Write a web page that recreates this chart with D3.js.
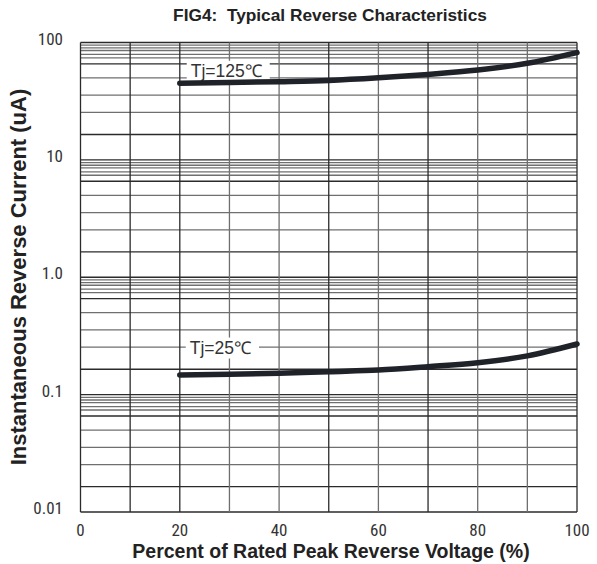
<!DOCTYPE html>
<html lang="en">
<head>
<meta charset="UTF-8">
<title>FIG4 Typical Reverse Characteristics</title>
<script src="https://d3js.org/d3.v7.min.js"></script>
<style>
    body { margin: 0; background: #fff; }
    svg { display: block; }
    .num { font-family: "Liberation Sans Narrow", "Roboto Condensed", "DejaVu Sans Condensed", sans-serif; font-size: 17px; fill: #333; }
    .title { font-family: "Liberation Sans", Arial, sans-serif; font-weight: bold; fill: #222; white-space: pre; }
    .tj { font-family: "Liberation Sans", Arial, sans-serif; font-size: 17.5px; fill: #333; }
</style>
</head>
<body>
<svg id="chart" width="597" height="564"></svg>
<script>
// percent of rated peak reverse voltage
const voltage = [20, 30, 40, 50, 60, 70, 80, 90, 100];
// reverse current (uA)
const current125 = [45, 45.6, 46.4, 47.5, 50, 53.5, 58.3, 66.5, 82];
const current25 = [0.147, 0.149, 0.152, 0.157, 0.162, 0.173, 0.187, 0.214, 0.27];

const xTicks = [0, 20, 40, 60, 80, 100];
const xGrid = [0, 10, 20, 30, 40, 50, 60, 70, 80, 90, 100];
const yTicks = [100, 10, 1, 0.1, 0.01];
const yTickLabels = ["100", "10", "1.0", "0.1", "0.01"];
// the printed grid is not a true log grid, these are its line positions inside a decade
const minorFrac = [0.216, 0.404, 0.551, 0.698, 0.818, 0.869, 0.898, 0.932, 0.954, 0.977];
const darkFrac = [0.216, 0.818];
const darkX = [0, 10, 20, 50, 70, 100];

const curveLabels = [
    { text: "Tj=125\u2103", x: 22.2, y: 57 },
    { text: "Tj=25\u2103", x: 22, y: 0.25 }
];

const svg = d3.select("#chart");
const x = d3.scaleLinear().domain([0, 100]).range([80.5, 577]);
const y = d3.scaleLog().domain([0.01, 100]).range([512, 42.5]);

// horizontal grid
const hLines = [];
[-2, -1, 0, 1].forEach(k => {
    hLines.push({ v: Math.pow(10, k), dark: true });
    minorFrac.forEach(f => hLines.push({ v: Math.pow(10, k + f), dark: darkFrac.includes(f) }));
});
hLines.push({ v: 100, dark: true });

svg.append("g").selectAll("line")
    .data(hLines)
    .join("line")
    .attr("x1", x(0)).attr("x2", x(100))
    .attr("y1", d => y(d.v)).attr("y2", d => y(d.v))
    .attr("stroke", d => d.dark ? "#2b2b2b" : "#6f6f6f")
    .attr("stroke-width", 1.3);

// vertical grid
svg.append("g").selectAll("line")
    .data(xGrid)
    .join("line")
    .attr("x1", d => x(d)).attr("x2", d => x(d))
    .attr("y1", y(100)).attr("y2", y(0.01))
    .attr("stroke", d => darkX.includes(d) ? "#2b2b2b" : "#6f6f6f")
    .attr("stroke-width", 1.3);

// tick labels
svg.append("g").selectAll("text")
    .data(xTicks)
    .join("text")
    .attr("class", "num")
    .attr("x", d => x(d))
    .attr("y", 536)
    .attr("text-anchor", "middle")
    .text(d => d);

svg.append("g").selectAll("text")
    .data(yTicks)
    .join("text")
    .attr("class", "num")
    .attr("x", 63)
    .attr("y", d => y(d) + 2)
    .attr("text-anchor", "end")
    .text((d, i) => yTickLabels[i]);

// curve labels with white boxes
const lab = svg.append("g").selectAll("g")
    .data(curveLabels)
    .join("g");
lab.append("rect").attr("fill", "#fff");
lab.append("text")
    .attr("class", "tj")
    .attr("x", d => x(d.x))
    .attr("y", d => y(d.y))
    .attr("dy", "0.35em")
    .text(d => d.text);
lab.each(function() {
    const g = d3.select(this);
    const b = g.select("text").node().getBBox();
    g.select("rect")
        .attr("x", b.x - 4).attr("y", b.y - 0.5)
        .attr("width", b.width + 12).attr("height", b.height + 1);
});

// curves
const line = d3.line()
    .x((d, i) => x(voltage[i]))
    .y(d => y(d))
    .curve(d3.curveMonotoneX);

[current125, current25].forEach(s => {
    svg.append("path")
        .attr("d", line(s))
        .attr("fill", "none")
        .attr("stroke", "#1f2329")
        .attr("stroke-width", 5.5)
        .attr("stroke-linecap", "round");
});

// titles
svg.append("text")
    .attr("class", "title")
    .attr("x", 330).attr("y", 21)
    .attr("text-anchor", "middle")
    .style("font-size", "17.3px")
    .text("FIG4:  Typical Reverse Characteristics");

svg.append("text")
    .attr("class", "title")
    .attr("x", 331).attr("y", 558)
    .attr("text-anchor", "middle")
    .style("font-size", "19.5px")
    .text("Percent of Rated Peak Reverse Voltage (%)");

svg.append("text")
    .attr("class", "title")
    .attr("transform", "translate(26,277) rotate(-90)")
    .attr("text-anchor", "middle")
    .style("font-size", "22px")
    .text("Instantaneous Reverse Current (uA)");
</script>
</body>
</html>
